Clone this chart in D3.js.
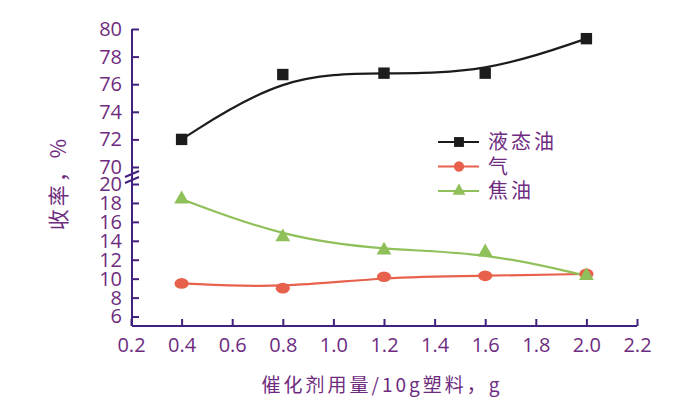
<!DOCTYPE html>
<html>
<head>
<meta charset="utf-8">
<script src="https://cdn.jsdelivr.net/npm/d3@7"></script>
<style>
  body { margin: 0; background: #fff; }
  svg { display: block; }
</style>
</head>
<body>
<div id="chart"></div>
<script>
// data
const dosage = [0.4, 0.8, 1.2, 1.6, 2.0];
const liquidOil = [72.0, 76.7, 76.8, 76.8, 79.3];
const gas = [9.5, 9.0, 10.2, 10.3, 10.5];
const coke = [18.4, 14.4, 13.0, 12.8, 10.3];
const seriesNames = ['液态油', '气', '焦油'];
const xTicks = [0.2, 0.4, 0.6, 0.8, 1.0, 1.2, 1.4, 1.6, 1.8, 2.0, 2.2];
const yTicksUpper = [70, 72, 74, 76, 78, 80];
const yTicksLower = [6, 8, 10, 12, 14, 16, 18, 20];
const xTitle = '催化剂用量/10g塑料，g';
const yTitle = '收率，%';

const width = 700, height = 397;
const axisColor = '#42207e', textColor = '#6e2c80';
const numFont = '"Open Sans", "Liberation Sans", sans-serif';
const cjkFont = '"Noto Sans CJK SC", sans-serif';

const svg = d3.select('#chart').append('svg')
    .attr('width', width)
    .attr('height', height);

// scales: broken y axis, upper part for liquid oil, lower part for gas / coke
const x = d3.scaleLinear([0.2, 2.2], [131, 637]);
const yUp = d3.scaleLinear([70, 80], [167, 29]);
const yLow = d3.scaleLinear([5, 20], [326, 184]);
const axisX0 = 132;

// x axis
const gx = svg.append('g')
    .attr('transform', `translate(0, ${yLow(5)})`)
    .call(d3.axisBottom(x).tickValues(xTicks).tickFormat(d3.format('.1f'))
        .tickSize(-7).tickSizeOuter(0).tickPadding(12));
gx.select('.domain').attr('d', `M${axisX0},0H${x(2.2)}`);

// y axis (one line, two tick sets)
svg.append('line')
    .attr('x1', axisX0).attr('x2', axisX0)
    .attr('y1', yUp(80)).attr('y2', yLow(5))
    .attr('stroke', axisColor).attr('stroke-width', 2);

const gyUp = svg.append('g')
    .attr('transform', `translate(${axisX0}, 0)`)
    .call(d3.axisLeft(yUp).tickValues(yTicksUpper).tickSize(-7).tickPadding(10));
const gyLow = svg.append('g')
    .attr('transform', `translate(${axisX0}, 0)`)
    .call(d3.axisLeft(yLow).tickValues(yTicksLower).tickSize(-7).tickPadding(10));

[gx, gyUp, gyLow].forEach(g => {
    g.selectAll('.tick line').attr('stroke', axisColor).attr('stroke-width', 2);
    g.selectAll('.tick text')
        .attr('fill', textColor)
        .style('font-family', numFont)
        .style('font-size', '20px');
});
gx.select('.domain').attr('stroke', axisColor).attr('stroke-width', 2);
gyUp.select('.domain').remove();
gyLow.select('.domain').remove();

// break marks
[0, 6].forEach(dy => {
    svg.append('line')
        .attr('x1', axisX0 - 7).attr('y1', 177 + dy)
        .attr('x2', axisX0 + 7).attr('y2', 171 + dy)
        .attr('stroke', axisColor).attr('stroke-width', 2);
});

// series
const series = [
    { name: seriesNames[0], values: liquidOil, y: yUp, color: '#1c1c1c', symbol: d3.symbolSquare, size: 130 },
    { name: seriesNames[1], values: gas, y: yLow, color: '#e8614d', symbol: d3.symbolCircle, size: 110 },
    { name: seriesNames[2], values: coke, y: yLow, color: '#8fc05a', symbol: d3.symbolTriangle, size: 95 }
];

const line = (s) => d3.line()
    .x((d, i) => x(dosage[i]))
    .y(d => s.y(d))
    .curve(d3.curveBasis)(s.values);

series.forEach(s => {
    svg.append('path')
        .attr('d', line(s))
        .attr('fill', 'none')
        .attr('stroke', s.color)
        .attr('stroke-width', 2.2);
});

series.forEach(s => {
    svg.append('g').selectAll('path')
        .data(s.values)
        .join('path')
        .attr('transform', (d, i) => `translate(${x(dosage[i])}, ${s.y(d)})` + (s.symbol === d3.symbolCircle ? ' scale(1.2,0.9)' : ''))
        .attr('d', d3.symbol(s.symbol, s.size))
        .attr('fill', s.color);
});

// legend
const legend = svg.append('g').attr('transform', 'translate(438, 142)');
const item = legend.selectAll('g')
    .data(series)
    .join('g')
    .attr('transform', (d, i) => `translate(0, ${i * 24.5})`);
item.append('line')
    .attr('x1', 0).attr('x2', 41)
    .attr('stroke', d => d.color).attr('stroke-width', 2);
item.append('path')
    .attr('transform', 'translate(21, 0)')
    .attr('d', d => d3.symbol(d.symbol, d.size * 0.75)())
    .attr('fill', d => d.color);
item.append('text')
    .attr('x', 50).attr('dy', '0.36em')
    .attr('fill', textColor)
    .style('font-family', cjkFont)
    .style('font-size', '20px')
    .style('letter-spacing', '3px')
    .text(d => d.name);

// axis titles
svg.append('text')
    .attr('x', 382).attr('y', 392)
    .attr('text-anchor', 'middle')
    .attr('fill', textColor)
    .style('font-family', cjkFont)
    .style('font-size', '19px')
    .style('letter-spacing', '3px')
    .text(xTitle);

svg.append('text')
    .attr('transform', 'translate(66, 183) rotate(-90)')
    .attr('text-anchor', 'middle')
    .attr('fill', textColor)
    .style('font-family', cjkFont)
    .style('font-size', '21px')
    .style('letter-spacing', '3px')
    .text(yTitle);
</script>
</body>
</html>
